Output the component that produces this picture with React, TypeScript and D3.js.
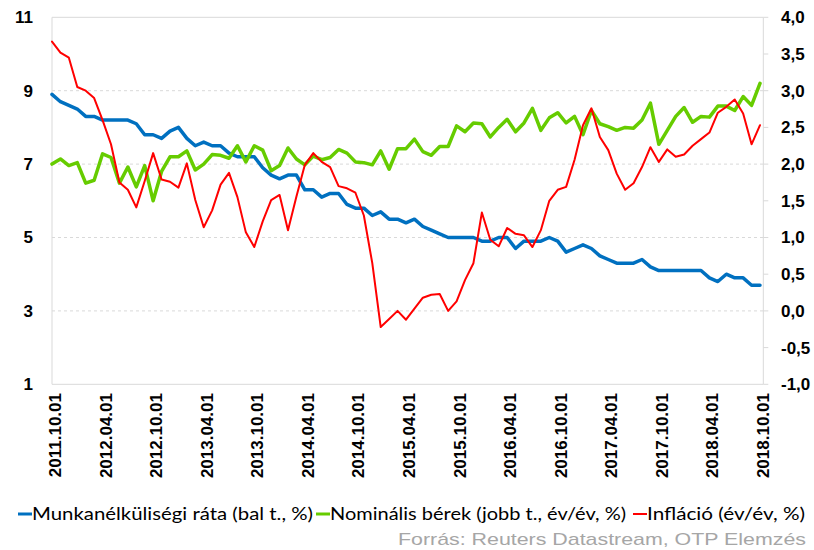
import React from "react";
import * as d3 from "d3";

const tickLabels = ["2011.10.01","2012.04.01","2012.10.01","2013.04.01","2013.10.01","2014.04.01","2014.10.01","2015.04.01","2015.10.01","2016.04.01","2016.10.01","2017.04.01","2017.10.01","2018.04.01","2018.10.01"];

const unemployment = [
  8.9,8.7,8.6,8.5,8.3,8.3,8.2,8.2,8.2,8.2,
  8.1,7.8,7.8,7.7,7.9,8.0,7.7,7.5,7.6,7.5,
  7.5,7.3,7.2,7.2,7.2,6.9,6.7,6.6,6.7,6.7,
  6.3,6.3,6.1,6.2,6.2,5.9,5.8,5.8,5.6,5.7,
  5.5,5.5,5.4,5.5,5.3,5.2,5.1,5.0,5.0,5.0,
  5.0,4.9,4.9,5.0,5.0,4.7,4.9,4.9,4.9,5.0,
  4.9,4.6,4.7,4.8,4.7,4.5,4.4,4.3,4.3,4.3,
  4.4,4.2,4.1,4.1,4.1,4.1,4.1,4.1,3.9,3.8,
  4.0,3.9,3.9,3.7,3.7
];

const wages = [
  2.0,2.07,1.98,2.02,1.74,1.78,2.14,2.09,1.74,1.96,
  1.69,1.98,1.5,1.9,2.1,2.1,2.18,1.92,2.0,2.13,
  2.12,2.08,2.25,2.03,2.25,2.19,1.91,1.98,2.22,2.07,
  1.99,2.11,2.06,2.09,2.2,2.15,2.03,2.02,1.99,2.18,
  1.93,2.21,2.21,2.34,2.17,2.12,2.24,2.24,2.52,2.44,
  2.56,2.55,2.37,2.5,2.61,2.44,2.56,2.76,2.46,2.63,
  2.7,2.56,2.65,2.4,2.73,2.55,2.51,2.46,2.5,2.49,
  2.6,2.83,2.27,2.46,2.65,2.77,2.57,2.65,2.64,2.79,
  2.79,2.73,2.92,2.8,3.1
];

const inflation = [
  3.67,3.52,3.45,3.05,3.0,2.9,2.6,2.27,1.75,1.65,
  1.41,1.77,2.15,1.79,1.76,1.68,2.01,1.51,1.14,1.37,
  1.72,1.88,1.55,1.07,0.87,1.22,1.51,1.58,1.1,1.56,
  1.99,2.15,2.03,1.96,1.7,1.67,1.61,1.3,0.65,-0.22,
  -0.11,0.0,-0.12,0.03,0.18,0.22,0.23,0.0,0.13,0.42,
  0.65,1.34,0.97,0.88,1.13,1.05,1.03,0.87,1.1,1.5,
  1.65,1.69,2.06,2.53,2.76,2.37,2.19,1.87,1.65,1.74,
  1.96,2.23,2.03,2.2,2.1,2.13,2.25,2.34,2.43,2.7,
  2.78,2.88,2.69,2.27,2.53
];

const leftTicks = [1, 3, 5, 7, 9, 11];
const rightTicks = [-1, -0.5, 0, 0.5, 1, 1.5, 2, 2.5, 3, 3.5, 4];

const legendItems = [
  { label: "Munkanélküliségi ráta (bal t., %)", color: "#0070C0", x: 18, w: 281, sw: 3 },
  { label: "Nominális bérek (jobb t., év/év, %)", color: "#66CC00", x: 316, w: 296, sw: 3 },
  { label: "Infláció (év/év, %)", color: "#FF0000", x: 633, w: 158, sw: 2 },
];

export default function App() {
  const x0 = 52, x1 = 760, axisRight = 763.3, top = 17.3, bottom = 384.3;
  const x = d3.scaleLinear().domain([0, unemployment.length - 1]).range([x0, x1]);
  const yL = d3.scaleLinear().domain([1, 11]).range([bottom, top]);
  const yR = d3.scaleLinear().domain([-1, 4]).range([bottom, top]);

  const lineL = d3.line<number>().x((_, i) => x(i)).y(d => yL(d));
  const lineR = d3.line<number>().x((_, i) => x(i)).y(d => yR(d));

  const tickFont = "'Liberation Sans', Arial, sans-serif";
  const grid = "#d9d9d9";

  return (
    <svg width={814} height={550} style={{ position: "absolute", left: 0, top: 0, background: "#fff" }}>
      {leftTicks.map(t => (
        <line key={"g" + t} x1={x0} x2={axisRight} y1={yL(t)} y2={yL(t)}
          stroke={grid} strokeWidth={1}
          strokeDasharray={t === 11 || t === 1 ? undefined : "3,3"} />
      ))}
      <line x1={x0} x2={x0} y1={top} y2={bottom} stroke={grid} strokeWidth={1} />
      <line x1={axisRight} x2={axisRight} y1={top} y2={bottom} stroke={grid} strokeWidth={1} />
      {rightTicks.map(t => (
        <line key={"rt" + t} x1={axisRight} x2={axisRight + 5} y1={yR(t)} y2={yR(t)} stroke={grid} strokeWidth={1} />
      ))}
      {leftTicks.map(t => (
        <text key={"ll" + t} x={33} y={yL(t)} dy="0.35em" textAnchor="end"
          fontFamily={tickFont} fontWeight="bold" fontSize={17} fill="#000">{t}</text>
      ))}
      {rightTicks.map(t => (
        <text key={"rl" + t} x={781} y={yR(t)} dy="0.35em" textAnchor="start"
          fontFamily={tickFont} fontWeight="bold" fontSize={17} fill="#000">{d3.format(".1f")(t).replace(".", ",").replace("−", "-")}</text>
      ))}
      {tickLabels.map((lab, k) => {
        const xi = x(k * 6) + 9;
        return (
          <text key={lab} transform={`translate(${xi},393) rotate(-90)`} textAnchor="end"
            fontFamily={tickFont} fontWeight="bold" fontSize={17} fill="#000">{lab}</text>
        );
      })}
      <path d={lineL(unemployment) || ""} fill="none" stroke="#0070C0" strokeWidth={3.5} strokeLinejoin="round" strokeLinecap="round" />
      <path d={lineR(wages) || ""} fill="none" stroke="#66CC00" strokeWidth={3.5} strokeLinejoin="round" strokeLinecap="round" />
      <path d={lineR(inflation) || ""} fill="none" stroke="#FF0000" strokeWidth={2} strokeLinejoin="round" strokeLinecap="round" />
      {legendItems.map(it => (
        <g key={it.label}>
          <line x1={it.x} x2={it.x + 14} y1={514} y2={514} stroke={it.color} strokeWidth={it.sw} />
          <text x={it.x + 14} y={520} fontFamily="Lato, 'Open Sans', sans-serif" fontSize={17}
            textLength={it.w} lengthAdjust="spacingAndGlyphs" fill="#000">{it.label}</text>
        </g>
      ))}
      <text x={806} y={545} textAnchor="end" fontFamily="'Liberation Sans', Arial, sans-serif" fontSize={17}
        fill="#a6a6a6" textLength={408} lengthAdjust="spacingAndGlyphs">Forrás: Reuters Datastream, OTP Elemzés</text>
    </svg>
  );
}
